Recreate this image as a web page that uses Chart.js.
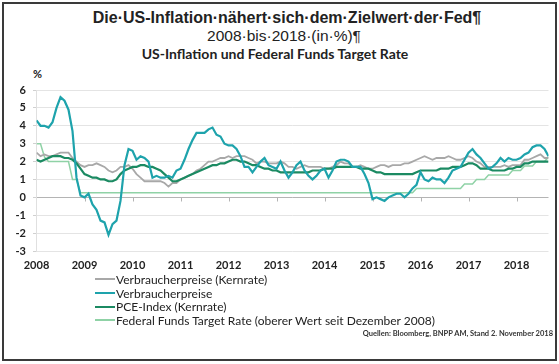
<!DOCTYPE html>
<html>
<head>
<meta charset="utf-8">
<script src="https://cdn.jsdelivr.net/npm/chart.js@4.4.0/dist/chart.umd.min.js"></script>
<style>
body{margin:0;background:#fff;width:559px;height:364px;position:relative;overflow:hidden;font-family:Lato,"Noto Sans",sans-serif;color:#222}
#frame{position:absolute;left:2px;top:2px;width:551px;height:355px;border:2px solid #3a3a3a}
.t{position:absolute;left:0;text-align:center;white-space:nowrap}
#t1{top:7.5px;font:bold 16px/20px "Liberation Sans",Arial,sans-serif;padding-left:15px;width:544px}
#t2{top:26px;font:15.5px/19px "Liberation Sans",Arial,sans-serif;padding-left:9px;width:550px}
#t3{top:45.5px;font:bold 14px/16px Lato,sans-serif;width:550px}
#pct{position:absolute;left:33px;top:67px;font:bold 11px/14px Lato,sans-serif}
#graf{position:absolute;left:0;top:60px}
#legenda{position:absolute;left:95px;top:272.5px}
.item{height:13.7px;display:flex;align-items:center;font:12px/13px Lato,sans-serif;white-space:nowrap}
.item span{display:inline-block;width:20px;height:2px;margin-right:1px}
#quelle{position:absolute;right:6px;top:329px;font:bold 7.5px/9px Lato,sans-serif;color:#333}
</style>
</head>
<body>
<div id="frame"></div>
<div class="t" id="t1">Die·US-Inflation·nähert·sich·dem·Zielwert·der·Fed¶</div>
<div class="t" id="t2">2008·bis·2018·(in·%)¶</div>
<div class="t" id="t3">US-Inflation und Federal Funds Target Rate</div>
<div id="pct">%</div>
<canvas id="graf" width="559" height="220"></canvas>
<div id="legenda"></div>
<div id="quelle">Quellen: Bloomberg, BNPP AM, Stand 2. November 2018</div>
<script>
// monatlich, Jan 2008 bis Sep 2018
const anos = ['2008','2009','2010','2011','2012','2013','2014','2015','2016','2017','2018'];
const cpiKern = [
2.5,2.3,2.4,2.3,2.3,2.4,2.5,2.5,2.5,2.2,2.0,1.8,
1.7,1.8,1.8,1.9,1.8,1.7,1.5,1.4,1.5,1.7,1.7,1.8,
1.6,1.3,1.1,0.9,0.9,0.9,0.9,0.9,0.8,0.6,0.8,0.8,
1.0,1.1,1.2,1.3,1.5,1.6,1.8,2.0,2.0,2.1,2.2,2.2,
2.3,2.2,2.3,2.3,2.3,2.2,2.1,1.9,2.0,2.0,1.9,1.9,
1.9,2.0,1.9,1.7,1.7,1.6,1.7,1.8,1.7,1.7,1.7,1.7,
1.6,1.6,1.7,1.8,2.0,1.9,1.9,1.7,1.7,1.8,1.7,1.6,
1.6,1.7,1.8,1.8,1.7,1.8,1.8,1.8,1.9,1.9,2.0,2.1,
2.2,2.3,2.2,2.1,2.2,2.2,2.2,2.3,2.2,2.1,2.1,2.2,
2.3,2.2,2.0,1.9,1.7,1.7,1.7,1.7,1.7,1.8,1.7,1.8,
1.8,1.8,2.1,2.1,2.2,2.3,2.4,2.2,2.2];
const cpi = [
4.3,4.0,4.0,3.9,4.2,5.0,5.6,5.4,4.9,3.7,1.1,0.1,
0.0,0.2,-0.4,-0.7,-1.3,-1.4,-2.1,-1.5,-1.3,-0.2,1.8,2.7,
2.6,2.1,2.3,2.2,2.0,1.1,1.2,1.1,1.1,1.2,1.1,1.5,
1.6,2.1,2.7,3.2,3.6,3.6,3.6,3.8,3.9,3.5,3.4,3.0,
2.9,2.9,2.7,2.3,1.7,1.7,1.4,1.7,2.0,2.2,1.8,1.7,
1.6,2.0,1.5,1.1,1.4,1.8,2.0,1.5,1.2,1.0,1.2,1.5,
1.6,1.1,1.5,2.0,2.1,2.1,2.0,1.7,1.7,1.7,1.3,0.8,
-0.1,0.0,-0.1,-0.2,0.0,0.1,0.2,0.2,0.0,0.2,0.5,0.7,
1.4,1.0,0.9,1.1,1.0,1.0,0.8,1.1,1.5,1.6,1.7,2.1,
2.5,2.7,2.4,2.2,1.9,1.6,1.7,1.9,2.2,2.0,2.2,2.1,
2.1,2.2,2.4,2.5,2.8,2.9,2.9,2.7,2.3];
const pceKern = [
2.1,2.0,2.1,2.2,2.3,2.3,2.3,2.2,2.2,2.1,1.9,1.6,
1.3,1.2,1.1,1.1,1.0,1.0,0.9,0.9,1.0,1.3,1.5,1.6,
1.7,1.7,1.8,1.8,1.7,1.7,1.6,1.5,1.3,1.1,0.9,0.9,
1.0,1.1,1.2,1.3,1.4,1.5,1.6,1.7,1.8,1.8,1.9,1.9,
2.0,2.1,2.1,2.0,2.0,1.9,1.8,1.8,1.7,1.6,1.6,1.5,
1.5,1.4,1.4,1.4,1.4,1.4,1.4,1.4,1.4,1.5,1.5,1.5,
1.6,1.6,1.6,1.7,1.7,1.7,1.7,1.7,1.7,1.6,1.6,1.6,
1.5,1.4,1.4,1.3,1.3,1.3,1.3,1.3,1.3,1.3,1.3,1.4,
1.5,1.5,1.5,1.5,1.5,1.6,1.6,1.6,1.7,1.7,1.7,1.8,
1.9,1.9,1.8,1.6,1.6,1.6,1.5,1.5,1.5,1.5,1.6,1.6,
1.7,1.7,1.9,1.9,2.0,2.0,2.0,2.0,2.0];
const fedRate = [
3.0,3.0,2.25,2.0,2.0,2.0,2.0,2.0,2.0,1.0,1.0,0.25,
0.25,0.25,0.25,0.25,0.25,0.25,0.25,0.25,0.25,0.25,0.25,0.25,
0.25,0.25,0.25,0.25,0.25,0.25,0.25,0.25,0.25,0.25,0.25,0.25,
0.25,0.25,0.25,0.25,0.25,0.25,0.25,0.25,0.25,0.25,0.25,0.25,
0.25,0.25,0.25,0.25,0.25,0.25,0.25,0.25,0.25,0.25,0.25,0.25,
0.25,0.25,0.25,0.25,0.25,0.25,0.25,0.25,0.25,0.25,0.25,0.25,
0.25,0.25,0.25,0.25,0.25,0.25,0.25,0.25,0.25,0.25,0.25,0.25,
0.25,0.25,0.25,0.25,0.25,0.25,0.25,0.25,0.25,0.25,0.25,0.5,
0.5,0.5,0.5,0.5,0.5,0.5,0.5,0.5,0.5,0.5,0.5,0.75,
0.75,0.75,1.0,1.0,1.0,1.25,1.25,1.25,1.25,1.25,1.25,1.5,
1.5,1.5,1.75,1.75,1.75,2.0,2.0,2.0,2.25];
const meses = cpi.map((v,i)=>i);

const pts = arr => arr.map((v,i)=>({x:meses[i],y:v}));

// Striche auf der Nulllinie
const nullStriche = {
id:'nullStriche',
beforeDatasetsDraw(chart){
const {ctx,scales:{x,y}} = chart;
const y0 = Math.round(y.getPixelForValue(0))+0.5;
ctx.save();
ctx.strokeStyle='#b4b4b4';
ctx.lineWidth=1;
x.ticks.forEach(t=>{
if(t.value>0 && t.value%12===0){
const px=Math.round(x.getPixelForValue(t.value))+0.5;
ctx.beginPath();ctx.moveTo(px,y0);ctx.lineTo(px,y0+4);ctx.stroke();
}
});
ctx.restore();
}
};

const grafico = new Chart(document.getElementById('graf'), {
type:'line',
data:{
datasets:[
{label:'Verbraucherpreise (Kernrate)',data:pts(cpiKern),borderColor:'#a8a8a8',borderWidth:1.8,order:3},
{label:'Verbraucherpreise',data:pts(cpi),borderColor:'#1ea3ac',borderWidth:2.2,order:1},
{label:'PCE-Index (Kernrate)',data:pts(pceKern),borderColor:'#1b8a62',borderWidth:2.2,order:2},
{label:'Federal Funds Target Rate (oberer Wert seit Dezember 2008)',data:pts(fedRate),borderColor:'#8fd2a6',borderWidth:1.5,order:4}
]
},
options:{
responsive:false,
animation:false,
events:[],
elements:{point:{radius:0},line:{tension:0}},
layout:{padding:{left:0,right:10.5,top:30,bottom:0}},
plugins:{legend:{display:false},tooltip:{enabled:false}},
scales:{
x:{
type:'linear',min:0,max:128,
grid:{display:false,drawTicks:false},
border:{display:false},
ticks:{stepSize:12,includeBounds:false,autoSkip:false,maxRotation:0,padding:8,
color:'#222',font:{family:'Lato',weight:'bold',size:11},
callback:v=>anos[v/12] || ''},
afterFit:s=>{s.height=29;}
},
y:{
min:-3,max:6,
grid:{color:c=>c.tick.value===0?'#b4b4b4':'#e4e4e4',tickColor:'#d0d0d0',tickLength:3.5},
border:{display:true,color:'#e0e0e0'},
ticks:{stepSize:1,padding:7,color:'#222',font:{family:'Lato',weight:'bold',size:11}},
afterFit:s=>{s.width=36.5;}
}
}
},
plugins:[nullStriche]
});

const leg = document.getElementById('legenda');
grafico.data.datasets.forEach(ds=>{
const row=document.createElement('div');
row.className='item';
const sw=document.createElement('span');
sw.style.background=ds.borderColor;
row.appendChild(sw);
row.appendChild(document.createTextNode(ds.label));
leg.appendChild(row);
});
</script>
</body>
</html>
